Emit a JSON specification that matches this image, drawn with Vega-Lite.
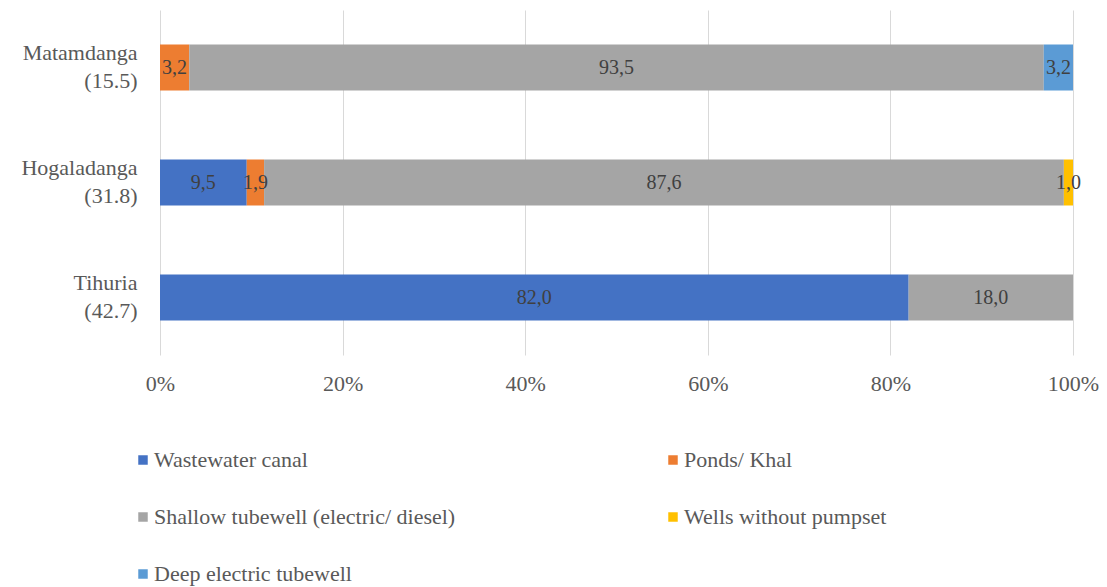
{
  "$schema": "https://vega.github.io/schema/vega-lite/v6.json",
  "width": 913,
  "height": 345,
  "autosize": {"type": "none"},
  "padding": {"left": 160, "top": 10, "right": 34, "bottom": 232},
  "config": {
    "font": "Liberation Serif, DejaVu Serif, serif",
    "view": {"stroke": null},
    "axis": {"labelFont": "Liberation Serif, DejaVu Serif, serif"},
    "legend": {"labelFont": "Liberation Serif, DejaVu Serif, serif"},
    "text": {"font": "Liberation Serif, DejaVu Serif, serif"},
    "locale": {"number": {"decimal": ",", "thousands": ".", "grouping": [3], "currency": ["", ""]}}
  },
  "data": {
    "values": [
      {"village": "Matamdanga (15.5)", "source": "Ponds/ Khal", "pct": 3.2},
      {"village": "Matamdanga (15.5)", "source": "Shallow tubewell (electric/ diesel)", "pct": 93.5},
      {"village": "Matamdanga (15.5)", "source": "Deep electric tubewell", "pct": 3.2},
      {"village": "Hogaladanga (31.8)", "source": "Wastewater canal", "pct": 9.5},
      {"village": "Hogaladanga (31.8)", "source": "Ponds/ Khal", "pct": 1.9},
      {"village": "Hogaladanga (31.8)", "source": "Shallow tubewell (electric/ diesel)", "pct": 87.6},
      {"village": "Hogaladanga (31.8)", "source": "Wells without pumpset", "pct": 1.0},
      {"village": "Tihuria (42.7)", "source": "Wastewater canal", "pct": 82.0},
      {"village": "Tihuria (42.7)", "source": "Shallow tubewell (electric/ diesel)", "pct": 18.0}
    ]
  },
  "transform": [
    {"calculate": "indexof(['Wastewater canal','Ponds/ Khal','Shallow tubewell (electric/ diesel)','Wells without pumpset','Deep electric tubewell'], datum.source)", "as": "ord"},
    {"stack": "pct", "groupby": ["village"], "sort": [{"field": "ord", "order": "ascending"}], "offset": "normalize", "as": ["x0", "x1"]},
    {"calculate": "(datum.x0 + datum.x1) / 2", "as": "xm"}
  ],
  "encoding": {
    "y": {
      "field": "village",
      "type": "nominal",
      "sort": ["Matamdanga (15.5)", "Hogaladanga (31.8)", "Tihuria (42.7)"],
      "scale": {"paddingInner": 0.6, "paddingOuter": 0.3},
      "axis": {
        "title": null,
        "labelExpr": "split(datum.label, ' ')",
        "labelAlign": "right",
        "labelBaseline": "middle",
        "labelOffset": -15,
        "labelPadding": 23,
        "labelFontSize": 22,
        "labelLineHeight": 28,
        "labelColor": "#595959",
        "ticks": false,
        "domain": false,
        "grid": false
      }
    }
  },
  "layer": [
    {
      "mark": {"type": "bar"},
      "encoding": {
        "x": {
          "field": "x0",
          "type": "quantitative",
          "scale": {"domain": [0, 1], "nice": false},
          "axis": {
            "title": null,
            "format": ".0%",
            "values": [0, 0.2, 0.4, 0.6, 0.8, 1],
            "grid": true,
            "gridColor": "#d9d9d9",
            "domain": false,
            "ticks": false,
            "labelFlush": false,
            "labelOverlap": false,
            "labelPadding": 18,
            "labelFontSize": 22,
            "labelColor": "#595959"
          }
        },
        "x2": {"field": "x1"},
        "color": {
          "field": "source",
          "type": "nominal",
          "scale": {
            "domain": ["Wastewater canal", "Ponds/ Khal", "Shallow tubewell (electric/ diesel)", "Wells without pumpset", "Deep electric tubewell"],
            "range": ["#4472C4", "#ED7D31", "#A5A5A5", "#FFC000", "#5B9BD5"]
          },
          "legend": {
            "title": null,
            "values": ["Wastewater canal", "Shallow tubewell (electric/ diesel)", "Deep electric tubewell", "Ponds/ Khal", "Wells without pumpset"],
            "orient": "none",
            "legendX": -28,
            "legendY": 439,
            "columns": 2,
            "columnPadding": 206,
            "rowPadding": 35,
            "symbolType": "square",
            "symbolSize": 90,
            "symbolStrokeWidth": 0,
            "labelOffset": 0,
            "labelFontSize": 22,
            "labelColor": "#595959",
            "labelLimit": 400
          }
        }
      }
    },
    {
      "mark": {"type": "text", "fontSize": 20, "color": "#404040", "baseline": "middle", "align": "center"},
      "encoding": {
        "x": {"field": "xm", "type": "quantitative"},
        "text": {"field": "pct", "type": "quantitative", "format": ".1f"}
      }
    }
  ]
}
